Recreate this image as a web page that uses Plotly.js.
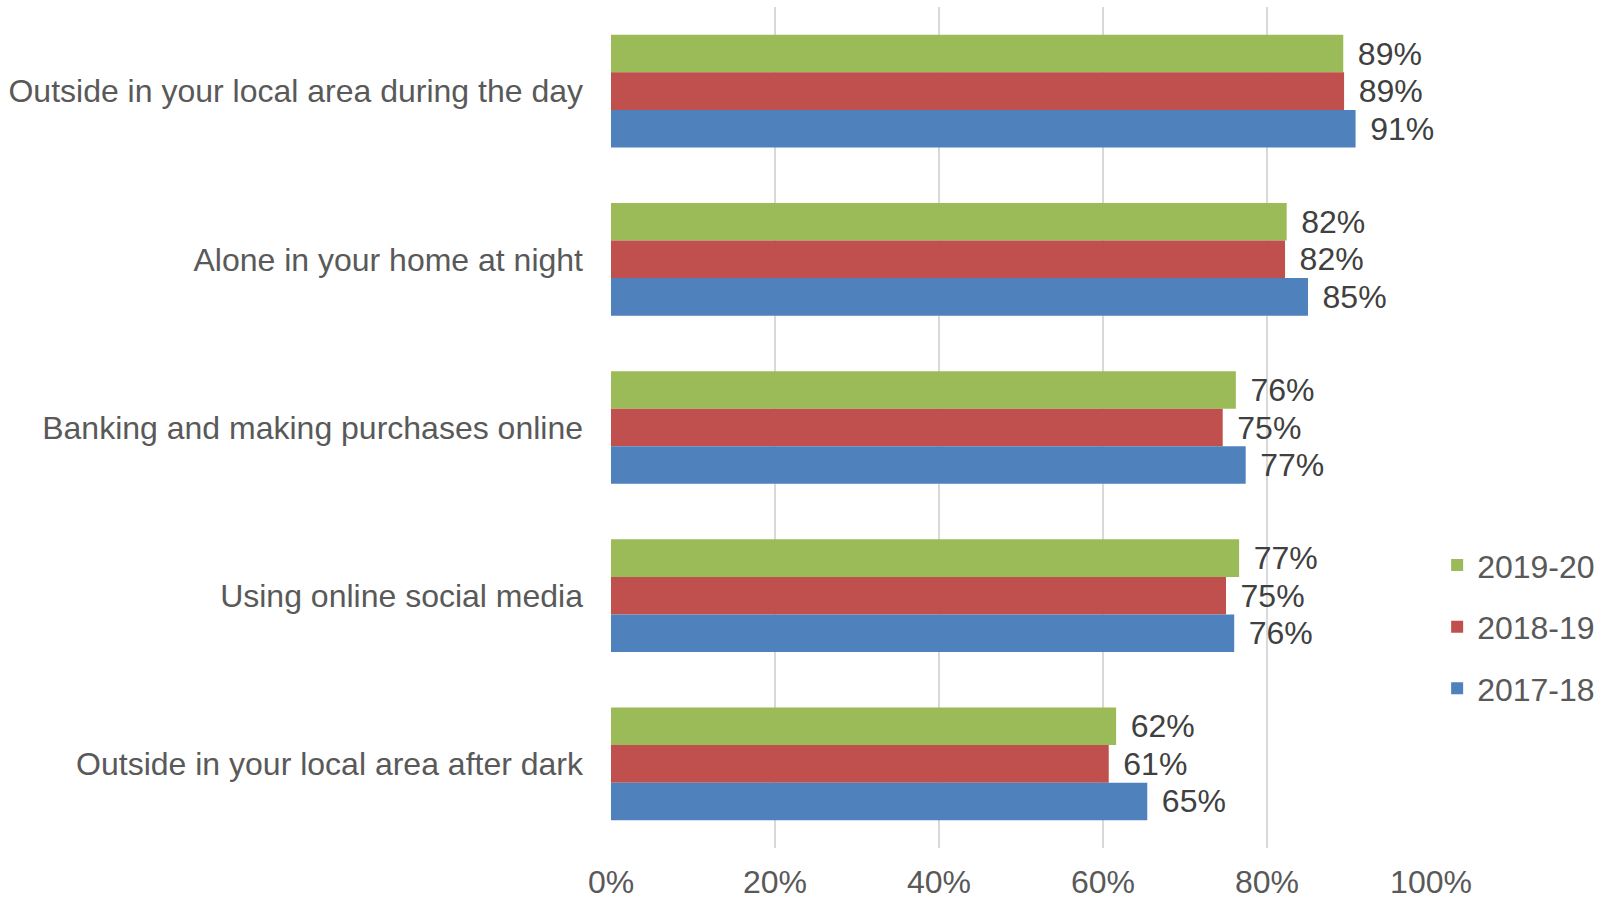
<!DOCTYPE html>
<html>
<head>
<meta charset="utf-8">
<script src="https://cdn.plot.ly/plotly-3.0.1.min.js"></script>
<style>html,body{margin:0;padding:0;background:#fff;}#chart{width:1604px;height:900px;}</style>
</head>
<body>
<div id="chart"></div>
<script>
// Categories listed top to bottom
const categories = [
  "Outside in your local area during the day",
  "Alone in your home at night",
  "Banking and making purchases online",
  "Using online social media",
  "Outside in your local area after dark"
];
const seriesNames = ["2019-20", "2018-19", "2017-18"];
const values2019_20 = [0.893, 0.824, 0.762, 0.766, 0.616];
const values2018_19 = [0.894, 0.822, 0.746, 0.750, 0.607];
const values2017_18 = [0.908, 0.850, 0.774, 0.760, 0.654];
const colors = ["#9BBB59", "#C0504D", "#4F81BD"];
const xTickVals = [0, 0.2, 0.4, 0.6, 0.8, 1.0];

const allValues = [values2019_20, values2018_19, values2017_18];
const FONT = "Liberation Sans, Arial, sans-serif";

const traces = allValues.map((vals, i) => ({
  type: "bar",
  orientation: "h",
  name: seriesNames[i],
  legendgroup: "g" + i,
  y: categories,
  x: vals,
  marker: {color: colors[i]},
  text: vals.map(v => "\u00a0\u200a" + Math.round(v * 100) + "%"),
  textposition: "outside",
  textfont: {family: FONT, size: 32, color: "#404040"},
  constraintext: "none",
  cliponaxis: false,
  hoverinfo: "x+name"
}));

const layout = {
  width: 1604,
  height: 900,
  margin: {l: 611, r: 173, t: 7, b: 52, autoexpand: false},
  paper_bgcolor: "#ffffff",
  plot_bgcolor: "#ffffff",
  barmode: "group",
  bargap: 0.33,
  bargroupgap: 0,
  font: {family: FONT, size: 32, color: "#595959"},
  xaxis: {
    range: [0, 1],
    tickvals: xTickVals,
    tickformat: ".0%",
    showgrid: true,
    gridcolor: "#d9d9d9",
    gridwidth: 1.5,
    zeroline: false,
    showline: false,
    ticks: "",
    ticklabelstandoff: 12,
    tickfont: {family: FONT, size: 32, color: "#595959"},
    fixedrange: true
  },
  yaxis: {
    type: "category",
    categoryorder: "array",
    categoryarray: categories,
    autorange: "reversed",
    showgrid: false,
    zeroline: false,
    showline: false,
    ticks: "",
    ticklabelstandoff: 27,
    tickfont: {family: FONT, size: 32, color: "#595959"},
    fixedrange: true
  },
  showlegend: true,
  legend: {
    x: 1.0075,
    xanchor: "left",
    y: 0.263,
    yanchor: "middle",
    font: {family: FONT, size: 32, color: "#595959"},
    tracegroupgap: 17,
    bgcolor: "rgba(0,0,0,0)"
  }
};

Plotly.newPlot("chart", traces, layout, {displayModeBar: false, staticPlot: true});
</script>
</body>
</html>
